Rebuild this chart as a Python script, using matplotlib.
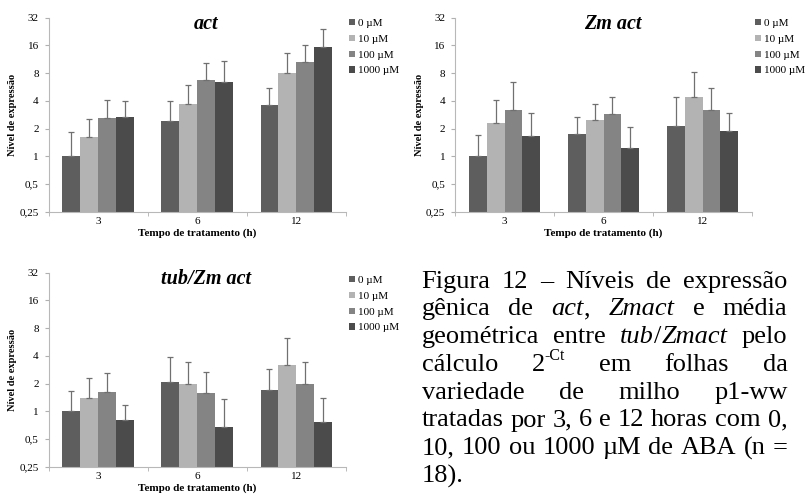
import numpy as np
import matplotlib
matplotlib.use('Agg')
import matplotlib.pyplot as plt
from matplotlib.ticker import FixedLocator, FixedFormatter

plt.rcParams['font.family'] = ['Liberation Serif', 'DejaVu Serif']

W, H = 805, 494

times = ['3', '6', '12']
doses = ['0 µM', '10 µM', '100 µM', '1000 µM']
dose_colors = ['#5e5e5e', '#b3b3b3', '#848484', '#4b4b4b']
y_ticks = [0.25, 0.5, 1, 2, 4, 8, 16, 32]
y_ticklabels = ['0,25', '0,5', '1', '2', '4', '8', '16', '32']

# mean expression (2^-Ct), one row per ABA dose, columns = 3, 6, 12 h
act_mean = [[1.00, 2.44, 3.60],
            [1.62, 3.73, 8.00],
            [2.59, 6.74, 10.7],
            [2.65, 6.46, 15.5]]
act_sd = [[0.82, 1.56, 1.87],
          [0.92, 2.27, 5.10],
          [1.51, 3.66, 5.50],
          [1.35, 4.44, 8.50]]

zmact_mean = [[1.00, 1.73, 2.15],
              [2.28, 2.48, 4.37],
              [3.20, 2.85, 3.18],
              [1.67, 1.24, 1.87]]
zmact_sd = [[0.72, 0.94, 2.22],
            [1.82, 1.18, 3.83],
            [3.20, 1.59, 2.29],
            [1.28, 0.82, 1.08]]

tubzm_mean = [[1.00, 2.06, 1.70],
              [1.39, 1.96, 3.16],
              [1.60, 1.58, 1.96],
              [0.80, 0.68, 0.76]]
tubzm_sd = [[0.65, 1.86, 1.20],
            [0.89, 1.50, 3.04],
            [0.98, 1.11, 1.45],
            [0.36, 0.69, 0.63]]

fig = plt.figure(figsize=(W / 100, H / 100), dpi=100)


def px_rect(left, top, right, bottom):
    return [left / W, 1 - bottom / H, (right - left) / W, (bottom - top) / H]


def draw_panel(rect, title, means, sds, legend_xy):
    ax = fig.add_axes(rect)
    ax.set_yscale('log', base=2)
    x = np.arange(len(times))
    bw = 0.181
    for i, (lab, col) in enumerate(zip(doses, dose_colors)):
        pos = x + (i - 1.5) * bw
        m = np.asarray(means[i])
        s = np.asarray(sds[i])
        ax.bar(pos, m, bw, color=col, label=lab, zorder=2)
        ax.errorbar(pos, m, yerr=[np.zeros_like(s), s], fmt='none',
                    ecolor='#707070', elinewidth=0.9, capsize=2,
                    capthick=0.9, zorder=3)
    ax.set_ylim(0.25, 32)
    ax.set_xlim(-0.5, 2.5)
    ax.yaxis.set_major_locator(FixedLocator(y_ticks))
    ax.yaxis.set_major_formatter(FixedFormatter(y_ticklabels))
    ax.yaxis.set_minor_locator(FixedLocator([]))
    ax.set_xticks(x)
    ax.set_xticklabels(times)
    ax.set_xticks([-0.5, 0.5, 1.5, 2.5], minor=True)
    ax.tick_params(axis='x', which='major', length=0, pad=4, labelsize=8)
    ax.tick_params(axis='x', which='minor', length=3, color='#b0b0b0')
    ax.tick_params(axis='y', length=3, pad=4, color='#b0b0b0', labelsize=8)
    for side in ('top', 'right'):
        ax.spines[side].set_visible(False)
    for side in ('left', 'bottom'):
        ax.spines[side].set_color('#b8b8b8')
        ax.spines[side].set_linewidth(0.8)
    ax.set_ylabel('Nível de expressão', fontsize=7.5, fontweight='bold')
    ax.yaxis.set_label_coords(-0.105, 0.5)
    ax.set_xlabel('Tempo de tratamento (h)', fontsize=8, fontweight='bold')
    ax.xaxis.set_label_coords(0.5, -0.085)
    ax.text(0.53, 0.965, title, transform=ax.transAxes, ha='center',
            va='center', fontsize=14.5, fontweight='bold', fontstyle='italic')
    ax.legend(loc='upper left', bbox_to_anchor=(legend_xy[0] / W, 1 - legend_xy[1] / H),
              bbox_transform=fig.transFigure, frameon=False, fontsize=8,
              handlelength=0.5, handleheight=0.5, handletextpad=0.35,
              labelspacing=0.6, borderpad=0, borderaxespad=0)
    return ax


draw_panel(px_rect(48.5, 17.7, 346, 211.7), 'act', act_mean, act_sd, (349, 19))
draw_panel(px_rect(455, 17.7, 752, 211.7), 'Zm act', zmact_mean, zmact_sd, (755, 19))
draw_panel(px_rect(48.5, 272.7, 346, 466.7), 'tub/Zm act', tubzm_mean, tubzm_sd, (349, 276))

# figure caption, fully justified in the lower right block
caption = [
    [[('Figura', 0, 0)], [('12', 0, 0)], [('–', 0, 0)], [('Níveis', 0, 0)], [('de', 0, 0)], [('expressão', 0, 0)]],
    [[('gênica', 0, 0)], [('de', 0, 0)], [('act', 1, 0), (',', 0, 0)], [('Zmact', 1, 0)], [('e', 0, 0)], [('média', 0, 0)]],
    [[('geométrica', 0, 0)], [('entre', 0, 0)], [('tub', 1, 0), ('/', 0, 0), ('Zmact', 1, 0)], [('pelo', 0, 0)]],
    [[('cálculo', 0, 0)], [('2', 0, 0), ('-Ct', 0, 1)], [('em', 0, 0)], [('folhas', 0, 0)], [('da', 0, 0)]],
    [[('variedade', 0, 0)], [('de', 0, 0)], [('milho', 0, 0)], [('p1-ww', 0, 0)]],
    [[('tratadas', 0, 0)], [('por', 0, 0)], [('3,', 0, 0)], [('6', 0, 0)], [('e', 0, 0)], [('12', 0, 0)],
     [('horas', 0, 0)], [('com', 0, 0)], [('0,', 0, 0)]],
    [[('10,', 0, 0)], [('100', 0, 0)], [('ou', 0, 0)], [('1000', 0, 0)], [('µM', 0, 0)], [('de', 0, 0)],
     [('ABA', 0, 0)], [('(n', 0, 0)], [('=', 0, 0)]],
    [[('18).', 0, 0)]],
]
cap_left, cap_right = 421.5, 787.5
cap_base0, cap_step = 287.5, 27.8
cap_size = 19
renderer = fig.canvas.get_renderer()


def seg_text(x, y, txt, italic, sup):
    size = cap_size * (0.6 if sup else 1)
    yy = y - (cap_size * 0.55 if sup else 0)
    return fig.text(x / W, 1 - yy / H, txt, fontsize=size, va='baseline', ha='left',
                    fontstyle='italic' if italic else 'normal')


for li, words in enumerate(caption):
    base = cap_base0 + li * cap_step
    placed = []
    widths = []
    for word in words:
        segs = []
        wsum = 0
        for txt, italic, sup in word:
            t = seg_text(0, base, txt, italic, sup)
            w = t.get_window_extent(renderer).width
            segs.append((t, wsum, sup))
            wsum += w
        placed.append(segs)
        widths.append(wsum)
    if li == len(caption) - 1 or len(words) == 1:
        gap = 0
    else:
        gap = (cap_right - cap_left - sum(widths)) / (len(words) - 1)
    xw = cap_left
    for segs, w in zip(placed, widths):
        for t, off, sup in segs:
            yy = base - (cap_size * 0.55 if sup else 0)
            t.set_position(((xw + off) / W, 1 - yy / H))
        xw += w + gap

fig.savefig('out.png', dpi=100)
